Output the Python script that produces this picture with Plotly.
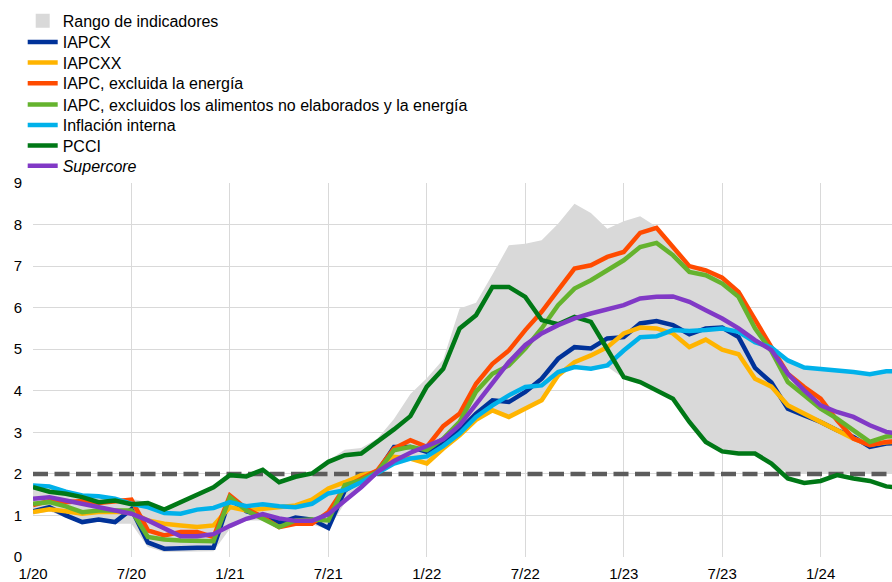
import plotly.graph_objects as go

# ---- categories (monthly, Jan 2020 - Jun 2024) ----
months = [f"{y}-{m:02d}" for y in range(2020, 2025) for m in range(1, 13)][:54]
tick_vals = ["2020-01", "2020-07", "2021-01", "2021-07", "2022-01",
             "2022-07", "2023-01", "2023-07", "2024-01"]
tick_text = ["1/20", "7/20", "1/21", "7/21", "1/22", "7/22", "1/23", "7/23", "1/24"]

# ---- series values (% annual) ----
iapcx = [1.10, 1.20, 1.00, 0.84, 0.90, 0.84, 1.15, 0.35, 0.20, 0.22, 0.22, 0.22,
         1.40, 1.10, 0.98, 0.82, 0.95, 0.90, 0.70, 1.60, 1.85, 2.05, 2.65, 2.65,
         2.53, 2.73, 3.05, 3.45, 3.77, 3.73, 3.97, 4.29, 4.77, 5.05, 5.02, 5.26,
         5.29, 5.62, 5.68, 5.58, 5.36, 5.50, 5.52, 5.29, 4.55, 4.20, 3.57, 3.41,
         3.25, 3.05, 2.89, 2.65, 2.73, 2.75]
iapcxx = [1.08, 1.15, 1.10, 1.04, 1.08, 1.08, 1.08, 0.88, 0.80, 0.76, 0.72, 0.76,
          1.20, 1.12, 1.16, 1.20, 1.24, 1.38, 1.65, 1.80, 1.97, 2.05, 2.41, 2.37,
          2.25, 2.61, 2.93, 3.30, 3.53, 3.37, 3.57, 3.77, 4.37, 4.69, 4.85, 5.05,
          5.38, 5.52, 5.50, 5.38, 5.05, 5.23, 4.99, 4.88, 4.29, 4.10, 3.65, 3.45,
          3.22, 3.02, 2.85, 2.70, 2.76, 2.78]
iapc_ex_energy = [1.25, 1.35, 1.32, 1.35, 1.30, 1.35, 1.38, 0.64, 0.52, 0.60, 0.60, 0.48,
                  1.48, 1.16, 0.96, 0.72, 0.80, 0.80, 1.08, 1.68, 1.89, 2.09, 2.61, 2.81,
                  2.65, 3.15, 3.45, 4.17, 4.65, 4.97, 5.46, 5.90, 6.42, 6.94, 7.02, 7.22,
                  7.34, 7.80, 7.92, 7.46, 7.00, 6.90, 6.72, 6.38, 5.70, 5.05, 4.41, 4.09,
                  3.81, 3.29, 2.85, 2.69, 2.77, 2.80]
iapc_ex_food_energy = [1.28, 1.32, 1.22, 1.08, 1.12, 1.12, 1.12, 0.48, 0.42, 0.40, 0.40, 0.38,
                       1.44, 1.12, 0.92, 0.72, 0.88, 0.90, 0.88, 1.73, 1.85, 2.05, 2.57, 2.65,
                       2.57, 2.85, 3.25, 3.98, 4.41, 4.61, 5.02, 5.50, 6.06, 6.46, 6.66, 6.90,
                       7.14, 7.46, 7.56, 7.26, 6.86, 6.78, 6.58, 6.26, 5.50, 4.95, 4.21, 3.89,
                       3.57, 3.33, 3.05, 2.77, 2.90, 2.92]
domestic = [1.72, 1.70, 1.57, 1.48, 1.46, 1.40, 1.28, 1.20, 1.06, 1.04, 1.14, 1.18,
            1.32, 1.22, 1.27, 1.22, 1.20, 1.28, 1.53, 1.61, 1.80, 2.01, 2.25, 2.37,
            2.42, 2.67, 2.97, 3.37, 3.65, 3.89, 4.09, 4.13, 4.45, 4.57, 4.53, 4.61,
            4.97, 5.29, 5.31, 5.46, 5.44, 5.46, 5.50, 5.42, 5.17, 5.04, 4.73, 4.56,
            4.53, 4.49, 4.45, 4.40, 4.47, 4.47]
pcci = [1.68, 1.57, 1.52, 1.44, 1.32, 1.36, 1.27, 1.30, 1.14, 1.32, 1.48, 1.68,
        1.97, 1.94, 2.10, 1.80, 1.93, 2.01, 2.29, 2.45, 2.49, 2.77, 3.07, 3.39,
        4.10, 4.53, 5.50, 5.82, 6.50, 6.50, 6.26, 5.70, 5.60, 5.78, 5.66, 5.00,
        4.33, 4.21, 4.01, 3.81, 3.25, 2.77, 2.54, 2.49, 2.49, 2.25, 1.89, 1.78,
        1.83, 1.97, 1.89, 1.83, 1.70, 1.65]
supercore = [1.40, 1.44, 1.36, 1.28, 1.18, 1.12, 1.04, 0.88, 0.68, 0.50, 0.50, 0.55,
             0.75, 0.92, 1.03, 0.93, 0.87, 0.87, 1.03, 1.36, 1.68, 2.05, 2.31, 2.51,
             2.67, 2.83, 3.17, 3.69, 4.17, 4.69, 5.10, 5.38, 5.58, 5.74, 5.86, 5.95,
             6.06, 6.22, 6.26, 6.27, 6.14, 5.94, 5.74, 5.50, 5.22, 4.98, 4.41, 4.01,
             3.65, 3.49, 3.37, 3.17, 3.01, 2.95]
range_upper = [1.76, 1.74, 1.62, 1.52, 1.48, 1.43, 1.40, 1.32, 1.16, 1.34, 1.50, 1.70,
               1.99, 1.96, 2.12, 1.84, 1.95, 2.04, 2.32, 2.58, 2.62, 2.85, 3.32, 3.92,
               4.30, 4.75, 5.98, 6.12, 6.80, 7.50, 7.54, 7.62, 8.02, 8.50, 8.28, 7.90,
               8.08, 8.20, 7.95, 7.48, 7.02, 6.92, 6.74, 6.40, 5.72, 5.10, 4.75, 4.58,
               4.55, 4.51, 4.47, 4.42, 4.49, 4.49]
range_lower = [1.02, 1.10, 0.95, 0.80, 0.85, 0.80, 0.80, 0.24, 0.12, 0.13, 0.14, 0.14,
               0.68, 0.88, 0.88, 0.68, 0.78, 0.78, 0.66, 1.30, 1.65, 2.00, 2.23, 2.35,
               2.22, 2.58, 2.90, 3.28, 3.50, 3.35, 3.55, 3.75, 4.35, 4.55, 4.50, 4.58,
               4.30, 4.18, 3.98, 3.78, 3.22, 2.74, 2.50, 2.45, 2.45, 2.24, 2.02, 2.02,
               2.02, 2.00, 2.00, 2.00, 2.00, 2.00]
target = [2.0, 2.0]

names = ["IAPCX", "IAPCXX", "IAPC, excluida la energía",
         "IAPC, excluidos los alimentos no elaborados y la energía",
         "Inflación interna", "PCCI", "<i>Supercore</i>"]
series = [iapcx, iapcxx, iapc_ex_energy, iapc_ex_food_energy, domestic, pcci, supercore]
colors = ["#003299", "#FFB400", "#FF4B00", "#65B32E", "#00B1EA", "#007816", "#8139C6"]

W, H = 892, 582
legend_centers = [20.8, 42.0, 62.5, 83.3, 104.5, 125.0, 145.5, 165.8]
legend_left = 22.7
FONT = "Liberation Sans, Arial, sans-serif"

fig = go.Figure()

# gray range band
fig.add_trace(go.Scatter(x=months, y=range_lower, mode="lines", line=dict(width=0),
                         showlegend=False, hoverinfo="skip"))
fig.add_trace(go.Scatter(x=months, y=range_upper, mode="lines", line=dict(width=0),
                         fill="tonexty", fillcolor="#D9D9D9",
                         showlegend=False, hoverinfo="skip"))
# legend entry for band
fig.add_trace(go.Scatter(x=[None], y=[None], mode="markers", name="Rango de indicadores",
                         marker=dict(symbol="square", size=14, color="#D9D9D9"),
                         legend="legend"))
# 2% reference line
fig.add_trace(go.Scatter(x=[months[0], months[-1]], y=target, mode="lines",
                         line=dict(color="#5C5C5C", width=4.5, dash="15px,6.5px"),
                         showlegend=False, hoverinfo="skip"))

for i, (nm, ys, c) in enumerate(zip(names, series, colors)):
    fig.add_trace(go.Scatter(x=months, y=ys, mode="lines", name=nm,
                             line=dict(color=c, width=4.5),
                             legend=f"legend{i + 2}"))

legend_layout = {}
for i, cy in enumerate(legend_centers):
    key = "legend" if i == 0 else f"legend{i + 1}"
    legend_layout[key] = dict(
        x=legend_left / W, y=1 - cy / H, xref="container", yref="container",
        xanchor="left", yanchor="middle", bgcolor="rgba(0,0,0,0)",
        font=dict(family=FONT, size=16, color="#000000"), borderwidth=0)

fig.update_layout(
    width=W, height=H,
    margin=dict(l=33, r=0, t=182.7, b=25.3, autoexpand=False),
    paper_bgcolor="white", plot_bgcolor="white",
    font=dict(family=FONT, size=15, color="#000000"),
    **legend_layout,
)
fig.update_xaxes(type="category", range=[0, 52.35], tickmode="array",
                 tickvals=tick_vals, ticktext=tick_text, showgrid=True,
                 gridcolor="#D9D9D9", gridwidth=1.2, ticks="", showline=False,
                 zeroline=False, ticklabelstandoff=6,
                 tickfont=dict(family=FONT, size=15, color="#000000"))
fig.update_yaxes(range=[0, 9], dtick=1, tick0=0, showgrid=True, gridcolor="#D9D9D9",
                 gridwidth=1.2, ticks="", zeroline=False, showline=False,
                 ticklabelstandoff=10,
                 tickfont=dict(family=FONT, size=15, color="#000000"))

fig.write_html("out.html", config={"displayModeBar": False},
               post_script="document.body.style.margin='0';document.body.style.overflow='hidden';")
